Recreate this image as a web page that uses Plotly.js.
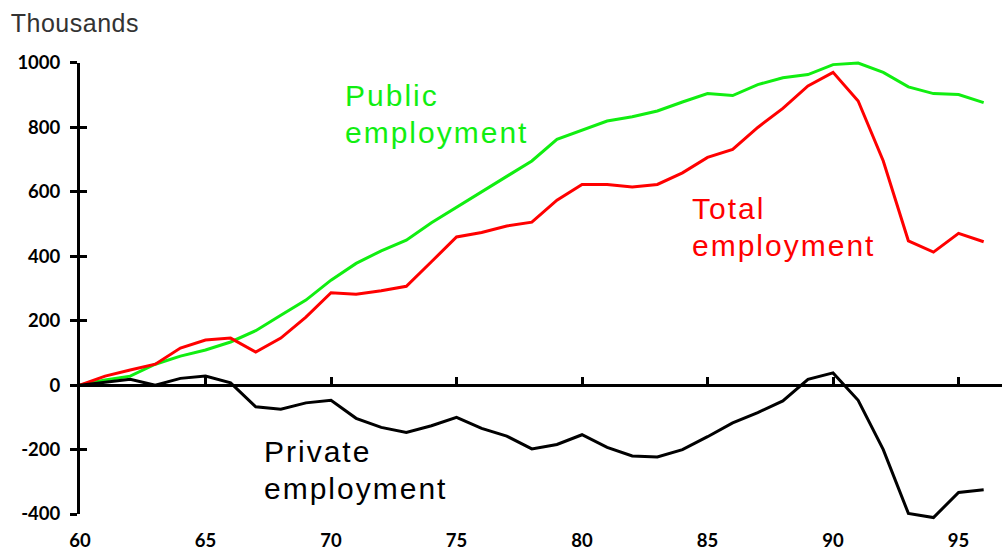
<!DOCTYPE html>
<html><head><meta charset="utf-8">
<script src="https://cdn.plot.ly/plotly-3.0.1.min.js"></script>
<style>
html,body{margin:0;padding:0;background:#fff;}
#chart{width:1002px;height:551px;}
.annotation .annotation-text{letter-spacing:2px;}
.annotation[data-index="0"] .annotation-text{letter-spacing:0.5px;}
</style></head><body><div id="chart"></div>
<script>
const years = [60,61,62,63,64,65,66,67,68,69,70,71,72,73,74,75,76,77,78,79,80,81,82,83,84,85,86,87,88,89,90,91,92,93,94,95,96];
const publicEmployment = [0,16,28,65,90,109,134,169,217,264,326,378,417,450,504,552,599,649,696,763,792,820,833,851,879,905,899,933,954,964,995,1000,971,926,905,902,877];
const totalEmployment = [0,28,47,65,115,140,146,103,146,211,287,282,293,307,383,460,474,494,506,574,623,623,615,623,659,707,732,800,859,929,971,882,696,448,413,471,445];
const privateEmployment = [0,10,18,0,21,28,7,-67,-75,-55,-47,-103,-131,-147,-126,-100,-134,-158,-198,-184,-154,-193,-220,-223,-200,-160,-117,-85,-49,18,38,-47,-200,-398,-411,-333,-325];
const xTickVals = [60,65,70,75,80,85,90,95];
const xTickText = ['60','65','70','75','80','85','90','95'];
const yTickVals = [-400,-200,0,200,400,600,800,1000];
const yTickText = ['-400','-200','0','200','400','600','800','1000'];
const unitLabel = 'Thousands';
const publicLines = ['Public','employment'];
const totalLines = ['Total','employment'];
const privateLines = ['Private','employment'];

const GREEN = '#11ee11', RED = '#ff0000', BLACK = '#000000';
const tickFont = {family:'Lato, "Liberation Sans", sans-serif', size:18.5, weight:'bold', color:'#000'};
const labelFont = (c)=>({family:'"Liberation Sans", Arial, sans-serif', size:30, color:c});
const xr = [60, 96.73];
const axisMin = -400, axisMax = 1000;
const yr = [-424.8, 1009.3];
const span = yr[1]-yr[0];
const axisDomain = [(axisMin-yr[0])/span, (axisMax-yr[0])/span];
const zeroPos = (0-yr[0])/span;

const traces = [
  {x: years, y: publicEmployment, type:'scatter', mode:'lines', line:{color:GREEN, width:3}, showlegend:false, hoverinfo:'skip'},
  {x: years, y: totalEmployment, type:'scatter', mode:'lines', line:{color:RED, width:3}, showlegend:false, hoverinfo:'skip'},
  {x: years, y: privateEmployment, type:'scatter', mode:'lines', line:{color:BLACK, width:3}, showlegend:false, hoverinfo:'skip'},
  {x: [], y: [], xaxis:'x2', yaxis:'y', type:'scatter', mode:'lines', showlegend:false, hoverinfo:'skip'},
  {x: [], y: [], xaxis:'x', yaxis:'y2', type:'scatter', mode:'lines', showlegend:false, hoverinfo:'skip'},
  {x: [], y: [], xaxis:'x', yaxis:'y3', type:'scatter', mode:'lines', showlegend:false, hoverinfo:'skip'}
];

function lineAnns(lines, x, yTop, color){
  const step = 115;
  return lines.map((t,i)=>({text:t, xref:'x', yref:'y', x:x, y:yTop - i*step, xanchor:'left', yanchor:'top',
    showarrow:false, align:'left', font:labelFont(color)}));
}

const layout = {
  width:1002, height:551,
  margin:{l:80, r:0, t:60, b:29, pad:0},
  paper_bgcolor:'#fff', plot_bgcolor:'rgba(0,0,0,0)',
  showlegend:false,
  xaxis:{range:xr, autorange:false, tickmode:'array', tickvals:xTickVals, ticktext:xTickText,
         showline:false, ticks:'', showgrid:false, zeroline:false, tickfont:tickFont, ticklabelstandoff:5, fixedrange:true},
  xaxis2:{overlaying:'x', anchor:'free', position:zeroPos, range:xr, autorange:false, tickmode:'array', tickvals:xTickVals,
          showticklabels:false, ticks:'inside', ticklen:7, tickwidth:3, tickcolor:BLACK,
          showline:true, linewidth:3, linecolor:BLACK, showgrid:false, zeroline:false, fixedrange:true, layer:'above traces'},
  yaxis:{range:yr, autorange:false, showticklabels:false, ticks:'', showline:false, showgrid:false, zeroline:false, fixedrange:true},
  yaxis2:{domain:axisDomain, anchor:'x', side:'left', range:[axisMin, axisMax], autorange:false, tickmode:'array',
         tickvals:yTickVals, ticktext:yTickText,
         ticks:'outside', ticklen:7, tickwidth:3, tickcolor:BLACK, showline:true, linewidth:3, linecolor:BLACK,
         showgrid:false, zeroline:false, tickfont:tickFont, ticklabelstandoff:6, fixedrange:true},
  yaxis3:{overlaying:'y2', anchor:'x', side:'left', range:[axisMin, axisMax], autorange:false, tickmode:'array', tickvals:yTickVals,
          showticklabels:false, ticks:'inside', ticklen:7, tickwidth:3, tickcolor:BLACK,
          showline:false, showgrid:false, zeroline:false, fixedrange:true},
  annotations:[
    {text:unitLabel, xref:'paper', yref:'paper', x:-0.0748, y:1 + 53/462, xanchor:'left', yanchor:'top', showarrow:false,
     font:{family:'"Liberation Sans", Arial, sans-serif', size:25, color:'#333'}}
  ].concat(lineAnns(publicLines, 70.48, 956, GREEN))
   .concat(lineAnns(totalLines, 84.31, 605, RED))
   .concat(lineAnns(privateLines, 67.25, -149, BLACK))
};

Plotly.newPlot('chart', traces, layout, {staticPlot:true, displayModeBar:false});
</script></body></html>
